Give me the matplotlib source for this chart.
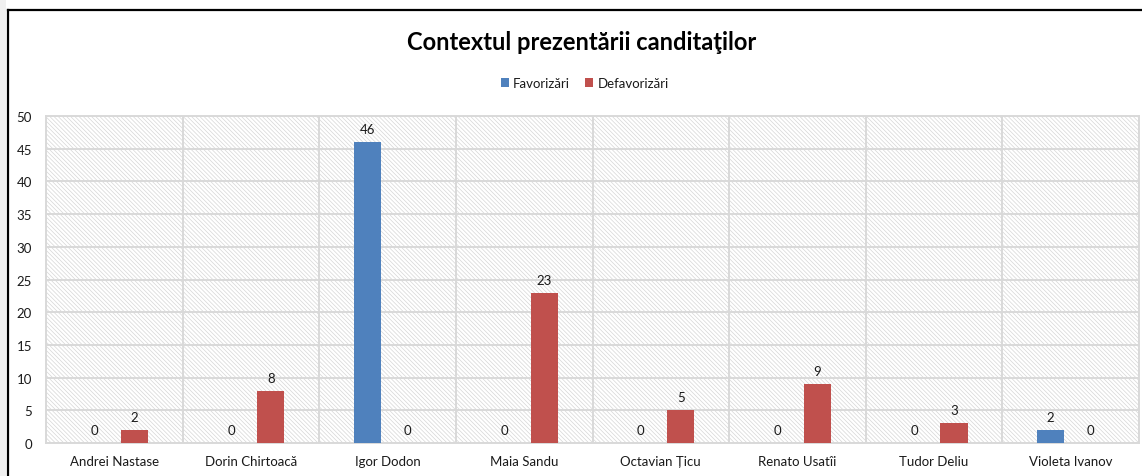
import numpy as np
import matplotlib.pyplot as plt
from matplotlib.patches import Rectangle
from matplotlib.lines import Line2D

plt.rcParams['font.family'] = ['Lato', 'Open Sans', 'DejaVu Sans']

candidates = ['Andrei Nastase', 'Dorin Chirtoacă', 'Igor Dodon', 'Maia Sandu',
              'Octavian Țicu', 'Renato Usatîi', 'Tudor Deliu', 'Violeta Ivanov']
favorizari = [0, 0, 46, 0, 0, 0, 0, 2]
defavorizari = [2, 8, 0, 23, 5, 9, 3, 0]
series_names = ['Favorizări', 'Defavorizări']
title = 'Contextul prezentării canditaţilor'
yticks = [0, 5, 10, 15, 20, 25, 30, 35, 40, 45, 50]

blue = '#4F81BD'
red = '#C0504D'
grid = '#D9D9D9'
text_col = '#1a1a1a'

fig = plt.figure(figsize=(11.42, 4.77), dpi=100)
fig.patch.set_facecolor('white')

# outer frame: grey strip at the left, black border on left and top
fig.patches.append(Rectangle((0, 0), 6 / 1142, 1, transform=fig.transFigure,
                             facecolor='#F0F0F0', edgecolor='none', zorder=0))
fig.lines.append(Line2D([7.5 / 1142, 7.5 / 1142], [0, 1 - 10.5 / 477],
                        transform=fig.transFigure, color='black', lw=1.6))
fig.lines.append(Line2D([7.5 / 1142, 1], [1 - 10.5 / 477, 1 - 10.5 / 477],
                        transform=fig.transFigure, color='black', lw=1.6))

ax = fig.add_axes([46 / 1142, 1 - 444 / 477, (1139 - 46) / 1142, (444 - 117) / 477])

# hatched plot-area background
plt.rcParams['hatch.linewidth'] = 0.5
ax.add_patch(Rectangle((0, 0), 1, 1, transform=ax.transAxes, facecolor='white',
                       edgecolor='#D6D6D6', hatch='\\' * 8, linewidth=0, zorder=0))

x = np.arange(len(candidates))
width = 0.198
offset = 0.146
b1 = ax.bar(x - offset, favorizari, width, color=blue, label=series_names[0], zorder=3)
b2 = ax.bar(x + offset, defavorizari, width, color=red, label=series_names[1], zorder=3)

for bars, vals in ((b1, favorizari), (b2, defavorizari)):
    for rect, v in zip(bars, vals):
        ax.annotate(f'{v}', (rect.get_x() + rect.get_width() / 2, v),
                    xytext=(0, 5), textcoords='offset points', ha='center', va='bottom',
                    fontsize=9.5, color=text_col, zorder=4)

ax.set_xlim(-0.5, len(candidates) - 0.5)
ax.set_ylim(0, 50)
ax.set_yticks(yticks)
ax.set_xticks(x)
ax.set_xticklabels(candidates)
ax.tick_params(axis='both', length=0, labelsize=9.5, colors=text_col)
ax.tick_params(axis='y', pad=10)
ax.tick_params(axis='x', pad=9)

for yv in yticks:
    ax.axhline(yv, color=grid, lw=1.4, zorder=1)
for xv in np.arange(-0.5, len(candidates), 1.0):
    ax.axvline(xv, color=grid, lw=1.4, zorder=1)
for s in ax.spines.values():
    s.set_color(grid)
    s.set_linewidth(1.4)

fig.text(0.509, 1 - 42 / 477, title, ha='center', va='center', fontsize=17,
         fontweight='bold', color='black')

fig.legend(handles=[b1, b2], labels=series_names, loc='center',
           bbox_to_anchor=(0.512, 1 - 84 / 477), ncol=2, frameon=False, fontsize=9.5,
           handlelength=0.6, handleheight=0.6, handletextpad=0.3, columnspacing=1.2,
           labelcolor=text_col)

fig.savefig('out.png', dpi=100)
